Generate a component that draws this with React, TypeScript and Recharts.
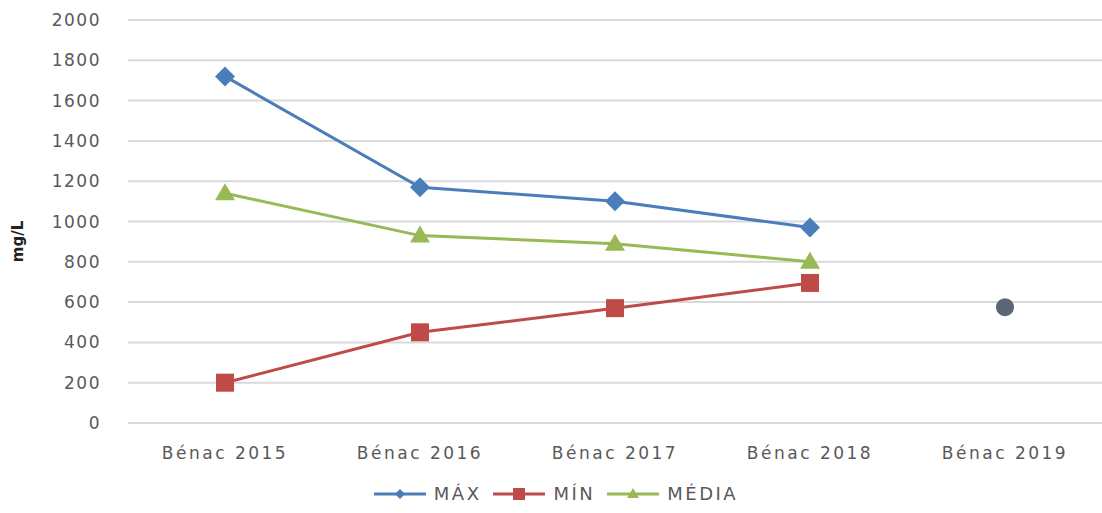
import React from "react";
import { LineChart, Line, XAxis, YAxis, CartesianGrid, Legend } from "recharts";

const categories = ["Bénac 2015", "Bénac 2016", "Bénac 2017", "Bénac 2018", "Bénac 2019"];
const maxValues = [1720, 1170, 1100, 970, null];
const minValues = [200, 450, 570, 695, null];
const meanValues = [1140, 930, 890, 800, null];
const single2019 = [null, null, null, null, 575];
const yTicks = [0, 200, 400, 600, 800, 1000, 1200, 1400, 1600, 1800, 2000];

const BLUE = "#4a7ebb";
const RED = "#be4b48";
const GREEN = "#98b954";
const GREY = "#5b6577";
const TEXT = "#595959";

const data = categories.map((name, i) => ({
  name,
  max: maxValues[i],
  min: minValues[i],
  mean: meanValues[i],
  y2019: single2019[i],
}));

const Diamond = (props: any) => {
  const { cx, cy, value } = props;
  if (value == null || cx == null) return null;
  const r = 10;
  return <path d={`M${cx},${cy - r}L${cx + r},${cy}L${cx},${cy + r}L${cx - r},${cy}Z`} fill={BLUE} />;
};

const Square = (props: any) => {
  const { cx, cy, value } = props;
  if (value == null || cx == null) return null;
  const s = 9;
  return <rect x={cx - s} y={cy - s} width={s * 2} height={s * 2} fill={RED} />;
};

const Triangle = (props: any) => {
  const { cx, cy, value } = props;
  if (value == null || cx == null) return null;
  const r = 10;
  return <path d={`M${cx},${cy - r}L${cx + r},${cy + 7}L${cx - r},${cy + 7}Z`} fill={GREEN} />;
};

const Circle = (props: any) => {
  const { cx, cy, value } = props;
  if (value == null || cx == null) return null;
  return <circle cx={cx} cy={cy} r={9} fill={GREY} />;
};

const legendItems = [
  { label: "MÁX", color: BLUE, shape: "diamond" },
  { label: "MÍN", color: RED, shape: "square" },
  { label: "MÉDIA", color: GREEN, shape: "triangle" },
];

function LegendContent() {
  return (
    <div style={{ display: "flex", justifyContent: "center", gap: 12, paddingLeft: 10, fontFamily: "DejaVu Sans", fontSize: 18, color: TEXT, letterSpacing: 2.5 }}>
      {legendItems.map((it) => (
        <div key={it.label} style={{ display: "flex", alignItems: "center", gap: 8 }}>
          <svg width={52} height={16}>
            <line x1={0} y1={8} x2={52} y2={8} stroke={it.color} strokeWidth={3} />
            {it.shape === "diamond" && <path d="M26,3L31,8L26,13L21,8Z" fill={it.color} />}
            {it.shape === "square" && <rect x={20} y={2} width={12} height={12} fill={it.color} />}
            {it.shape === "triangle" && <path d="M26,2L32,12L20,12Z" fill={it.color} />}
          </svg>
          <span>{it.label}</span>
        </div>
      ))}
    </div>
  );
}

export default function App() {
  return (
    <div style={{ position: "absolute", left: 0, top: 0, background: "#fff" }}>
      <LineChart width={1102} height={513} data={data} margin={{ top: 20, right: 0, left: 0, bottom: 0 }}>
        <CartesianGrid vertical={false} stroke="#d9d9d9" strokeWidth={2} />
        <XAxis
          dataKey="name"
          padding={{ left: 97, right: 97 }}
          axisLine={{ stroke: "#d9d9d9", strokeWidth: 2 }}
          tickLine={false}
          tickSize={0}
          tickMargin={24}
          height={60}
          tick={{ fill: TEXT, fontFamily: "DejaVu Sans", fontSize: 17, letterSpacing: 2.5 }}
        />
        <YAxis
          width={128}
          domain={[0, 2000]}
          ticks={yTicks}
          axisLine={false}
          tickLine={false}
          tickSize={0}
          tickMargin={27}
          tick={{ fill: TEXT, fontFamily: "DejaVu Sans", fontSize: 17, letterSpacing: 1.5 }}
          label={{ value: "mg/L", angle: -90, position: "insideLeft", offset: 18, dy: 20, style: { fill: "#222", fontFamily: "DejaVu Sans", fontSize: 15, fontWeight: "bold", textAnchor: "middle" } }}
        />
        <Legend verticalAlign="bottom" height={30} content={<LegendContent />} />
        <Line dataKey="max" name="MÁX" stroke={BLUE} strokeWidth={3} dot={<Diamond />} activeDot={false} isAnimationActive={false} />
        <Line dataKey="min" name="MÍN" stroke={RED} strokeWidth={3} dot={<Square />} activeDot={false} isAnimationActive={false} />
        <Line dataKey="mean" name="MÉDIA" stroke={GREEN} strokeWidth={3} dot={<Triangle />} activeDot={false} isAnimationActive={false} />
        <Line dataKey="y2019" stroke="none" dot={<Circle />} activeDot={false} legendType="none" isAnimationActive={false} />
      </LineChart>
    </div>
  );
}
